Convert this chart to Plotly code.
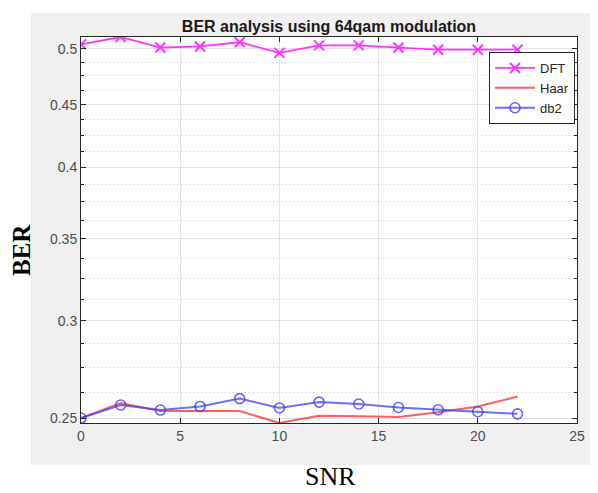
import math
import plotly.graph_objects as go

# data
snr = [0, 2, 4, 6, 8, 10, 12, 14, 16, 18, 20, 22]
ber_dft = [0.504, 0.511, 0.501, 0.502, 0.506, 0.496, 0.503, 0.503, 0.501, 0.499, 0.499, 0.499]
ber_haar = [0.250, 0.2571, 0.2533, 0.2533, 0.2533, 0.2477, 0.2511, 0.2508, 0.2505, 0.2527, 0.2555, 0.2603]
ber_db2 = [0.250, 0.2562, 0.2538, 0.2555, 0.2593, 0.2548, 0.2576, 0.2567, 0.2550, 0.2539, 0.2530, 0.2520]

y_ticks = [0.25, 0.3, 0.35, 0.4, 0.45, 0.5]
y_ticktext = ['0.25', '0.3', '0.35', '0.4', '0.45', '0.5']
y_minor = [0.2625, 0.275, 0.2875, 0.3125, 0.325, 0.3375, 0.3625, 0.375, 0.3875,
           0.4125, 0.425, 0.4375, 0.4625, 0.475, 0.4875]
x_ticks = [0, 5, 10, 15, 20, 25]

# page body adds 8px, so the figure is 590x485 and placed at (8, 8)
W, H = 590, 485
L, R, T, B = 73, 21, 29, 70
PW, PH = W - L - R, H - T - B


def px(x):
    return (x - L) / PW


def py(y):
    return (T + PH - y) / PH


fig = go.Figure()

fig.add_trace(go.Scatter(
    x=snr, y=ber_dft, mode='lines+markers', name='DFT',
    line=dict(color='#ff33ff', width=1.8),
    marker=dict(symbol='x-thin', size=10, line=dict(color='#ff33ff', width=2))
))
fig.add_trace(go.Scatter(
    x=snr, y=ber_haar, mode='lines', name='Haar',
    line=dict(color='rgba(255,40,40,0.75)', width=2)
))
fig.add_trace(go.Scatter(
    x=snr, y=ber_db2, mode='lines+markers', name='db2',
    line=dict(color='rgba(60,60,255,0.75)', width=2),
    marker=dict(symbol='circle-open', size=10, color='rgba(60,60,255,0.8)',
                line=dict(width=1.6))
))

lo = min(ber_haar + ber_db2)
hi = max(ber_dft)

fig.update_layout(
    width=W, height=H,
    paper_bgcolor='#f0f0f0',
    plot_bgcolor='white',
    margin=dict(l=L, r=R, t=T, b=B),
    font=dict(family='Liberation Sans, Arial', color='#4d4d4d', size=14),
    title=dict(text='<b>BER analysis using 64qam modulation</b>',
               x=0.5, xref='paper', xanchor='center',
               y=1 - 18 / H, yanchor='middle',
               font=dict(family='Liberation Sans, Arial', size=16, color='#1a1a1a')),
    legend=dict(x=px(567), y=py(44), xanchor='right', yanchor='top',
                bgcolor='white', bordercolor='#262626', borderwidth=1,
                font=dict(size=13, color='#262626'),
                tracegroupgap=0, itemwidth=40),
    showlegend=True,
    shapes=[
        dict(type='rect', xref='paper', yref='paper', layer='below',
             x0=px(0), x1=px(23), y0=py(H), y1=py(0),
             fillcolor='white', line=dict(width=0)),
        dict(type='rect', xref='paper', yref='paper', layer='below',
             x0=px(0), x1=px(W), y0=py(H), y1=py(457),
             fillcolor='white', line=dict(width=0)),
        dict(type='rect', xref='paper', yref='paper', layer='below',
             x0=px(0), x1=px(W), y0=py(5), y1=py(0),
             fillcolor='white', line=dict(width=0)),
    ],
    annotations=[
        dict(text='<b>BER</b>', xref='paper', yref='paper', x=px(14), y=py(242),
             showarrow=False, textangle=-90, xanchor='center', yanchor='middle',
             font=dict(family='Liberation Serif, Times New Roman', size=25, color='black')),
        dict(text='SNR', xref='paper', yref='paper', x=px(322), y=py(H),
             showarrow=False, xanchor='center', yanchor='bottom',
             font=dict(family='Liberation Serif, Times New Roman', size=26, color='black')),
    ],
)

fig.update_xaxes(
    range=[0, 25], tickvals=x_ticks,
    showline=True, linecolor='#262626', linewidth=1, mirror='ticks',
    ticks='inside', ticklen=5, tickcolor='#262626',
    showgrid=True, gridcolor='#e3e3e3', gridwidth=1, zeroline=False,
)
fig.update_yaxes(
    type='log', range=[math.log10(lo), math.log10(hi)],
    tickvals=y_ticks, ticktext=y_ticktext,
    showline=True, linecolor='#262626', linewidth=1, mirror='ticks',
    ticks='inside', ticklen=5, tickcolor='#262626',
    showgrid=True, gridcolor='#e3e3e3', gridwidth=1, zeroline=False,
    minor=dict(tickvals=y_minor, showgrid=True, gridcolor='#c8c8c8',
               griddash='1px,3px', gridwidth=1,
               ticks='inside', ticklen=3, tickcolor='#262626'),
)

fig.write_html("out.html")
